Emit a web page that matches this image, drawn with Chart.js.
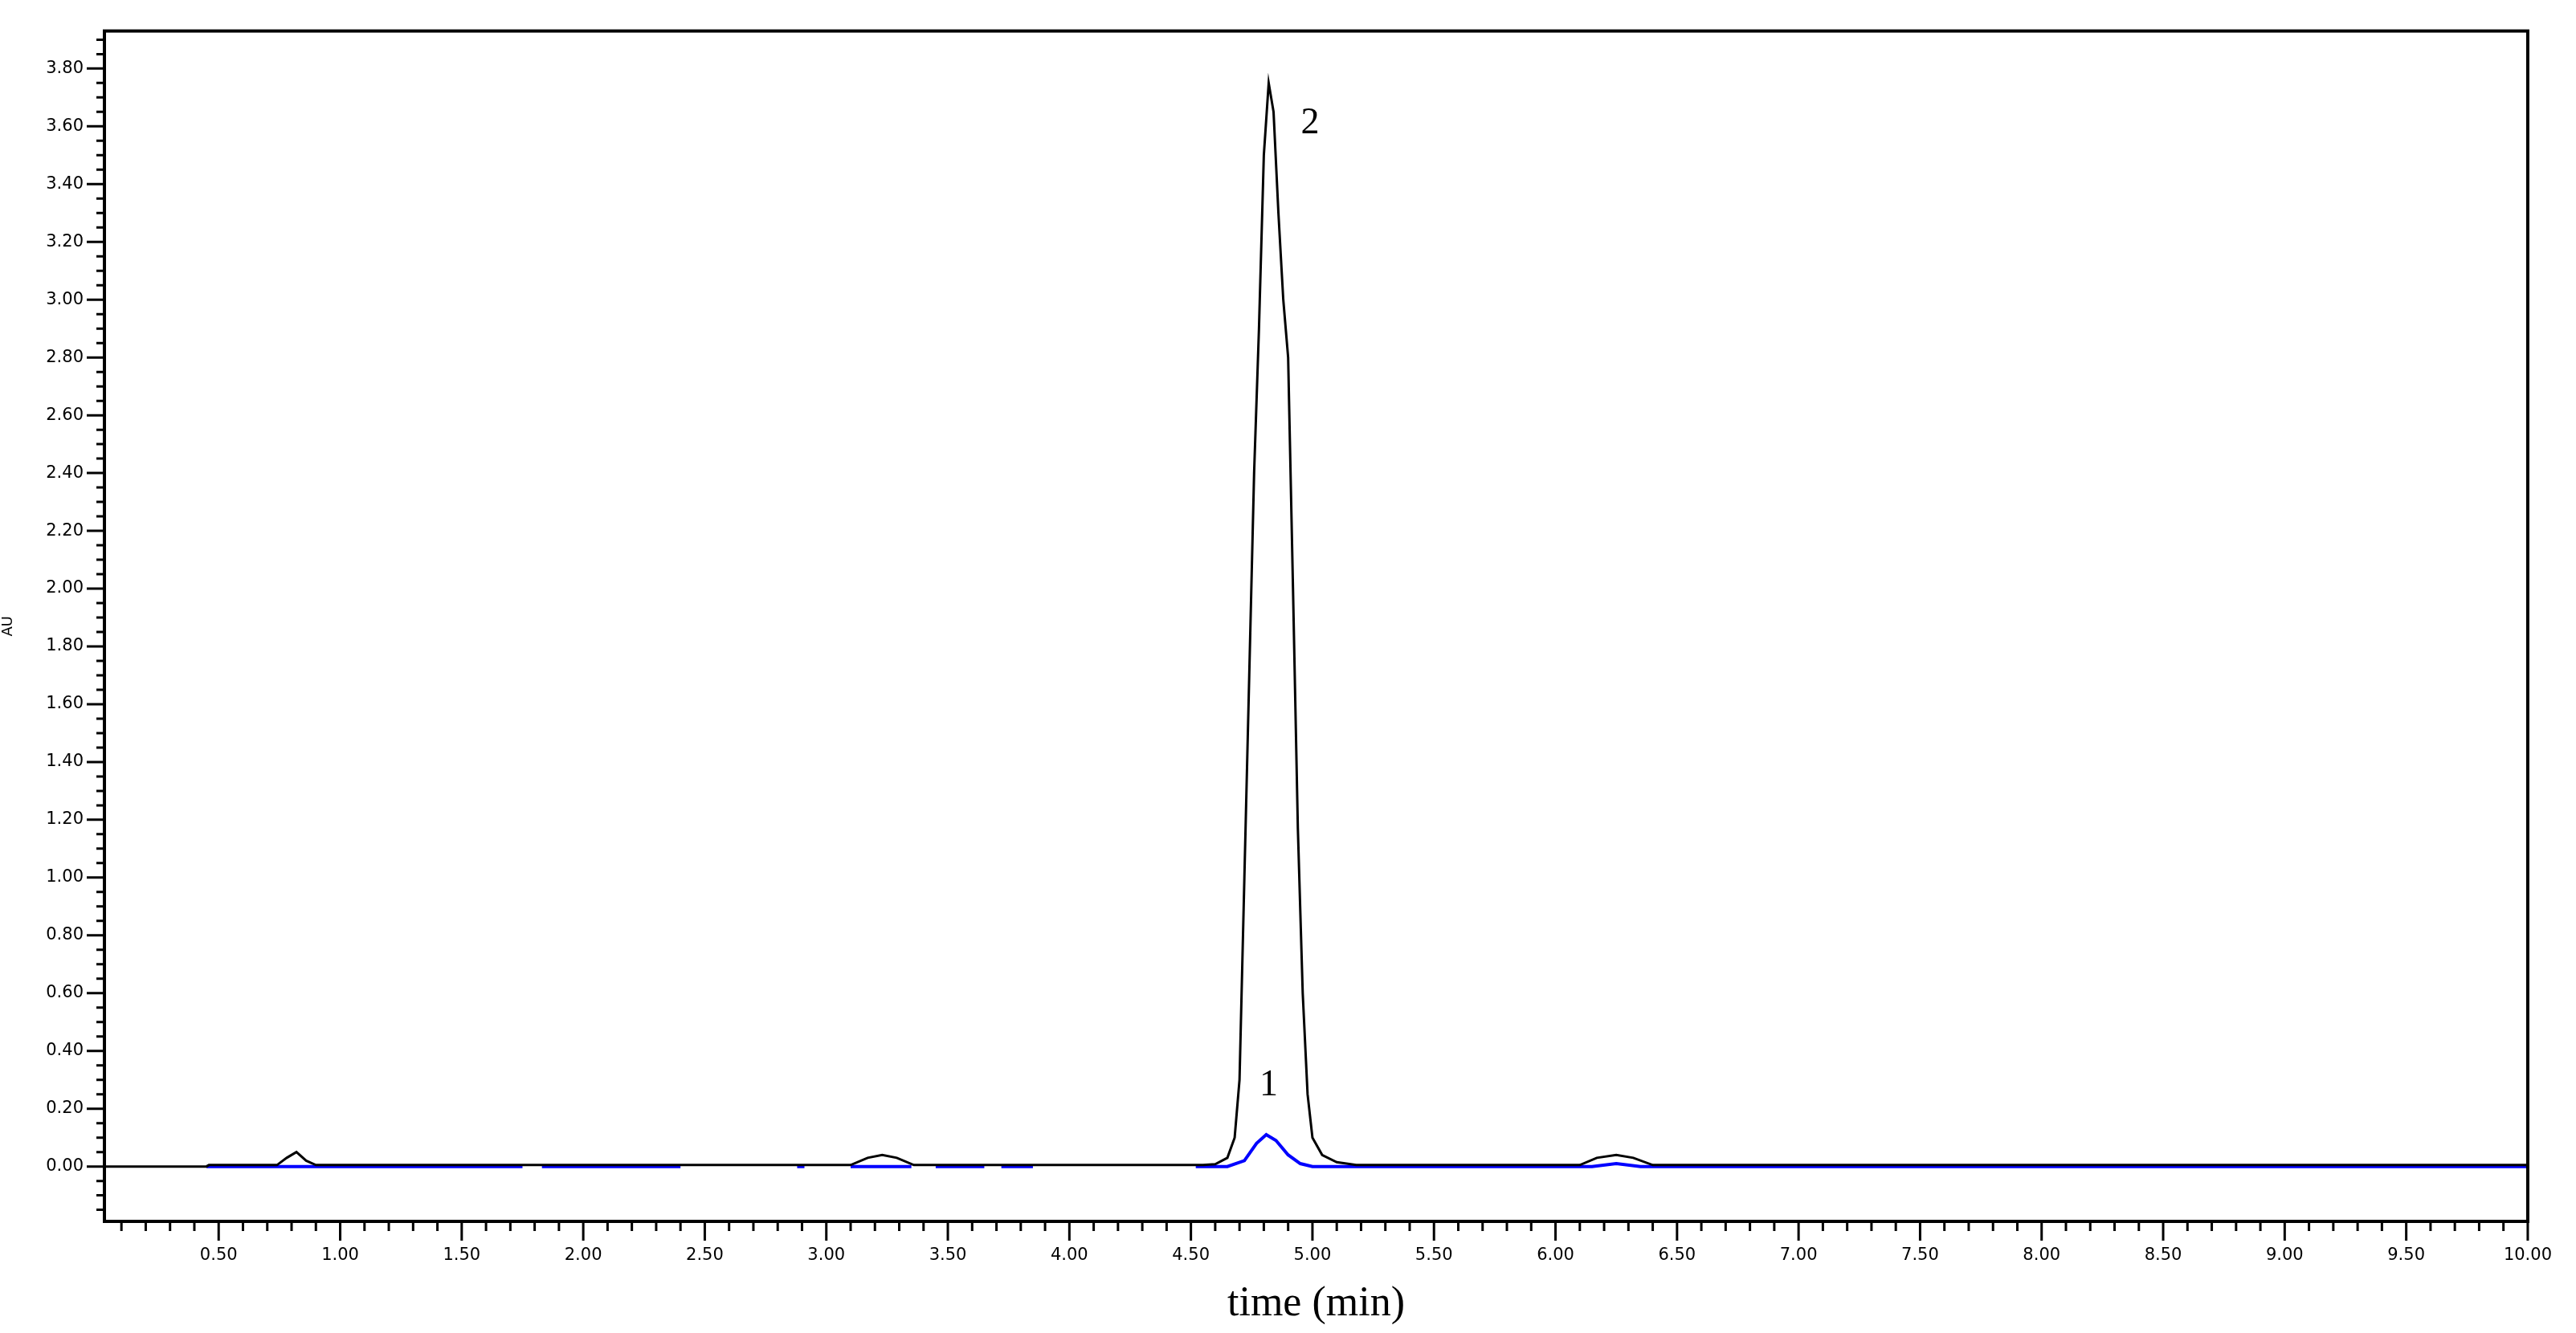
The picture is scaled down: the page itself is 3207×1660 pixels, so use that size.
<!DOCTYPE html>
<html><head><meta charset="utf-8">
<script src="https://cdn.jsdelivr.net/npm/chart.js@4"></script>
<style>html,body{margin:0;background:#fff}#c{display:block}</style>
</head><body><canvas id="c" width="3207" height="1660"></canvas>
<script>
// black trace (time min, AU)
const blackTime = [0.03,0.45,0.46,0.74,0.78,0.82,0.86,0.90,3.10,3.17,3.23,3.29,3.36,4.55,4.60,4.65,4.68,4.70,4.72,4.74,4.76,4.78,4.80,4.82,4.84,4.86,4.88,4.90,4.92,4.94,4.96,4.98,5.00,5.04,5.10,5.18,6.10,6.17,6.25,6.32,6.40,10.0];
const blackAU   = [0.0,0.0,0.005,0.005,0.03,0.05,0.02,0.005,0.005,0.03,0.04,0.03,0.005,0.005,0.008,0.03,0.1,0.3,1.0,1.7,2.4,2.9,3.5,3.75,3.65,3.3,3.0,2.8,2.0,1.17,0.6,0.25,0.1,0.04,0.015,0.005,0.005,0.03,0.04,0.03,0.005,0.005];
// blue trace
const blueTime = [0.45,1.75,null,1.83,2.40,null,2.88,2.91,null,3.10,3.35,null,3.45,3.65,null,3.72,3.85,null,4.52,4.65,4.72,4.77,4.81,4.85,4.90,4.95,5.00,6.15,6.25,6.35,10.0];
const blueAU   = [0.0,0.0,null,0.0,0.0,null,0.0,0.0,null,0.0,0.0,null,0.0,0.0,null,0.0,0.0,null,0.0,0.0,0.02,0.08,0.11,0.09,0.04,0.01,0.0,0.0,0.01,0.0,0.0];
const xTickValues = [0.5,1,1.5,2,2.5,3,3.5,4,4.5,5,5.5,6,6.5,7,7.5,8,8.5,9,9.5,10];
const yTickValues = [0,0.2,0.4,0.6,0.8,1.0,1.2,1.4,1.6,1.8,2.0,2.2,2.4,2.6,2.8,3.0,3.2,3.4,3.6,3.8];
const peakLabels = [{t:'1',x:4.82,y:0.28},{t:'2',x:4.99,y:3.61}];

const toPts=(xs,ys)=>xs.map((x,i)=>x===null?{x:NaN,y:null}:{x:x,y:ys[i]}).map(p=>isNaN(p.x)?{x:null,y:null}:p);
function pts(xs,ys){const o=[];for(let i=0;i<xs.length;i++){if(xs[i]===null){o.push({x:(xs[i-1]+xs[i+1])/2,y:null});}else o.push({x:xs[i],y:ys[i]});}return o;}

const frame={id:'frame',afterDraw(ch){
  const c=ch.ctx,a=ch.chartArea,xs=ch.scales.x,ys=ch.scales.y;
  c.save();c.strokeStyle='#000';c.lineWidth=4;
  c.strokeRect(a.left,a.top,a.right-a.left,a.bottom-a.top);
  c.lineWidth=3;c.beginPath();
  for(let v=0.1;v<=10.001;v+=0.1){const r=Math.round(v*10);const p=xs.getPixelForValue(r/10);const L=(r%5===0)?24:12;c.moveTo(p,a.bottom);c.lineTo(p,a.bottom+L);}
  for(let k=-3;k<=78;k++){const v=k*0.05;const p=ys.getPixelForValue(v);const L=(k%4===0)?22:10;c.moveTo(a.left,p);c.lineTo(a.left-L,p);}
  c.stroke();
  c.fillStyle='#000';c.font='46px "Liberation Serif"';c.textAlign='center';c.textBaseline='middle';
  peakLabels.forEach(l=>c.fillText(l.t,xs.getPixelForValue(l.x),ys.getPixelForValue(l.y)));
  c.restore();
}};

new Chart(document.getElementById('c'),{
  type:'line',
  data:{datasets:[
    {data:pts(blueTime,blueAU),borderColor:'#0000ff',borderWidth:4,pointRadius:0,tension:0,spanGaps:false,order:2},
    {data:pts(blackTime,blackAU),borderColor:'#000',borderWidth:3,pointRadius:0,tension:0,order:1}
  ]},
  options:{responsive:false,animation:false,parsing:false,
    layout:{padding:{top:25,right:47,left:0,bottom:0}},
    plugins:{legend:{display:false},tooltip:{enabled:false}},
    scales:{
      x:{type:'linear',min:0.03,max:10,
        afterBuildTicks:s=>{s.ticks=xTickValues.map(v=>({value:v}));},
        afterFit:s=>{s.height=139;},
        grid:{display:false,drawTicks:false},border:{display:false},
        ticks:{color:'#000',font:{family:'DejaVu Sans',size:21},padding:30,maxRotation:0,autoSkip:false,callback:v=>v.toFixed(2)},
        title:{display:true,text:'time (min)',color:'#000',font:{family:'Liberation Serif',size:52},padding:{top:0}}},
      y:{type:'linear',min:-0.19,max:3.93,
        afterBuildTicks:s=>{s.ticks=yTickValues.map(v=>({value:v}));},
        afterFit:s=>{s.width=130;},
        grid:{display:false,drawTicks:false},border:{display:false},
        ticks:{color:'#000',font:{family:'DejaVu Sans',size:21},padding:26,autoSkip:false,callback:v=>v.toFixed(2)},
        title:{display:true,text:'AU',color:'#000',font:{family:'DejaVu Sans',size:18},padding:0}}
    }},
  plugins:[frame]
});
</script></body></html>
